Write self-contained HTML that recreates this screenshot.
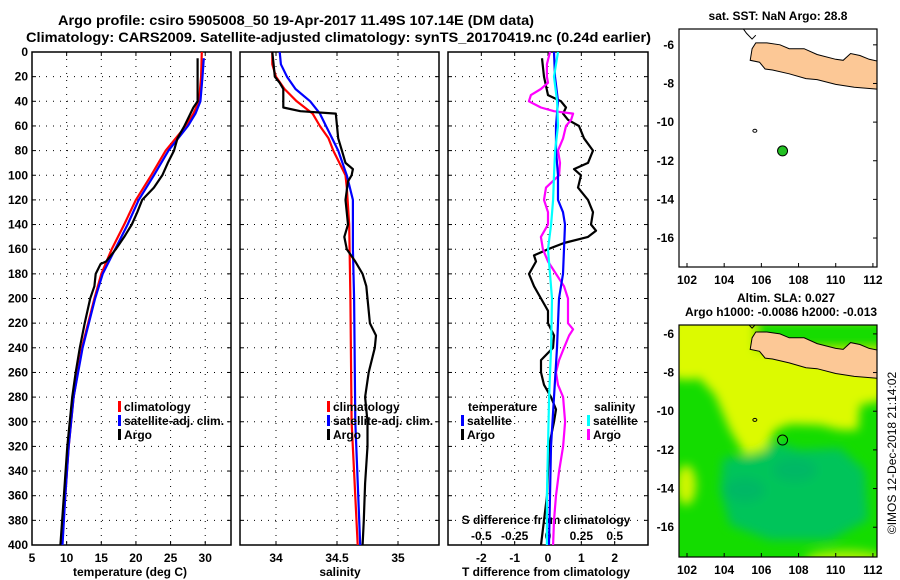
<!DOCTYPE html>
<html><head><meta charset="utf-8"><title>Argo profile</title>
<style>
html,body{margin:0;padding:0;background:#fff;}
svg{display:block;font-family:"Liberation Sans",Arial,sans-serif;font-weight:bold;}
</style></head>
<body>
<svg id="chart" width="900" height="580" viewBox="0 0 900 580" xmlns="http://www.w3.org/2000/svg">
<defs>
<clipPath id="clipMap2"><rect x="679" y="325" width="198" height="232"/></clipPath>
<clipPath id="clipMap1"><rect x="679" y="29" width="198" height="238"/></clipPath>
<filter id="blur" x="-20%" y="-20%" width="140%" height="140%"><feGaussianBlur stdDeviation="5"/></filter>
</defs>
<text x="58" y="25" font-size="14" textLength="476" lengthAdjust="spacingAndGlyphs">Argo profile: csiro 5905008_50 19-Apr-2017 11.49S 107.14E (DM data)</text>
<text x="26" y="42" font-size="14" textLength="625" lengthAdjust="spacingAndGlyphs">Climatology: CARS2009. Satellite-adjusted climatology: synTS_20170419.nc (0.24d earlier)</text>
<g id="plots"></g>
</svg>
<script>
// ---------- data ----------
const depthTicks = [0,20,40,60,80,100,120,140,160,180,200,220,240,260,280,300,320,340,360,380,400];
const tempTicks = [5,10,15,20,25,30];
const salTicks = [34,34.5,35];
const salTickLabels = ['34','34.5','35'];
const tdiffTicks = [-2,-1,0,1,2];
const sdiffTickLabels = ['-0.5','-0.25','0','0.25','0.5'];
const sdiffTicks = [-0.5,-0.25,0,0.25,0.5];

// temperature (deg C)
const tClimDepth = [0,20,40,50,60,80,100,120,140,160,180,200,240,280,320,360,400];
const tClimVal   = [29.5,29.4,29.1,28.3,27.2,24.3,22.2,20.0,18.3,16.5,15.0,14.0,12.2,11.0,10.3,9.8,9.3];
const tSatDepth  = [5,20,40,50,60,80,100,120,140,160,180,200,240,280,320,360,400];
const tSatVal    = [29.8,29.6,29.3,28.6,27.5,24.7,22.6,20.4,18.8,17.0,15.2,14.1,12.3,11.0,10.3,9.8,9.4];
const tArgoDepth = [5,20,40,45,60,70,80,90,100,110,120,130,140,150,160,165,170,172,180,190,200,220,240,260,280,320,360,400];
const tArgoVal   = [28.9,28.9,28.9,28.3,27.0,26.0,25.5,24.6,23.8,22.6,20.9,20.2,19.4,18.3,17.1,16.4,15.7,14.9,14.2,14.0,13.4,12.6,11.9,11.3,10.8,10.1,9.6,9.1];

// salinity
const sClimDepth = [0,10,20,30,40,50,60,70,80,90,100,110,140,200,300,400];
const sClimVal   = [33.97,33.97,34.00,34.07,34.17,34.30,34.36,34.43,34.47,34.52,34.57,34.58,34.60,34.61,34.62,34.67];
const sSatDepth  = [0,10,20,30,40,50,60,70,80,100,120,160,200,300,400];
const sSatVal    = [34.03,34.04,34.09,34.16,34.28,34.36,34.41,34.46,34.51,34.58,34.63,34.63,34.64,34.65,34.69];
const sArgoDepth = [0,10,20,25,30,40,45,48,50,60,70,80,90,95,100,105,120,140,150,160,170,180,190,200,220,230,240,260,280,300,320,350,380,400];
const sArgoVal   = [33.97,33.98,33.99,34.03,34.06,34.06,34.06,34.20,34.49,34.50,34.51,34.54,34.57,34.63,34.62,34.59,34.57,34.59,34.56,34.58,34.65,34.71,34.74,34.75,34.77,34.82,34.81,34.76,34.73,34.75,34.75,34.73,34.72,34.71];

// differences from climatology
const dTArgoDepth = [5,20,35,40,45,50,55,60,70,80,90,95,100,110,120,130,140,145,150,155,160,165,170,180,190,200,210,220,230,240,250,260,270,280,290,300,320,340,360,380,400];
const dTArgoVal   = [-0.18,-0.12,0,0.39,0.54,0.45,0.6,0.93,1.08,1.35,1.2,0.78,0.99,0.9,1.2,1.35,1.29,1.44,1.2,0.48,0,-0.42,-0.36,-0.57,-0.42,-0.21,0,0,0.18,0.15,-0.21,-0.21,-0.12,0.09,0.24,0.18,0.03,0,-0.03,-0.12,-0.21];
const dTSatDepth  = [0,20,40,60,80,100,120,130,140,160,180,200,240,280,320,360,400];
const dTSatVal    = [0.18,0.21,0.3,0.24,0.24,0.3,0.3,0.45,0.51,0.48,0.45,0.33,0.27,0.18,0.09,0.06,0.03];
const dSSatDepth  = [0,20,40,60,80,100,120,140,160,180,200,240,280,320,360,400];
const dSSatVal    = [0.075,0.045,0.068,0.075,0.053,0.045,0.038,0.023,0,0.015,0.03,0.023,0.008,0,-0.008,-0.008];
const dSArgoDepth = [0,10,20,25,30,35,40,45,48,50,55,60,70,80,90,100,110,120,130,140,150,160,170,180,190,200,220,225,230,240,250,260,270,280,300,320,340,360,380,400];
const dSArgoVal   = [0.015,-0.008,-0.008,0,-0.053,-0.128,-0.143,-0.053,0.045,0.188,0.173,0.135,0.113,0.075,0.09,0.083,-0.015,-0.03,0,0,-0.053,-0.038,0,0.06,0.12,0.15,0.15,0.188,0.158,0.12,0.083,0.06,0.075,0.113,0.128,0.113,0.083,0.06,0.045,0.038];

// maps
const lonTicks = [102,104,106,108,110,112];
const latTicks = [-6,-8,-10,-12,-14,-16];
const floatLon = [107.14];
const floatLat = [-11.49];
const javaLon = [105.7,106.3,107.0,107.5,108.3,109.0,110.0,110.4,110.8,111.3,111.8,112.3,112.3,111.0,110.0,109.0,108.4,107.5,106.6,106.2,105.9,105.4,105.5];
const javaLat = [-5.9,-5.9,-6.0,-6.2,-6.2,-6.5,-6.75,-6.8,-6.45,-6.55,-6.75,-6.85,-8.3,-8.2,-8.05,-7.8,-7.75,-7.5,-7.3,-7.25,-6.9,-6.8,-6.2];

// ---------- helpers ----------
const NS='http://www.w3.org/2000/svg';
const root=document.getElementById('plots');
function mk(tag,attrs,parent){const e=document.createElementNS(NS,tag);for(const k in attrs)e.setAttribute(k,attrs[k]);(parent||root).appendChild(e);return e;}
const top0=52, bot0=545;
function yD(d){return top0+(d/400)*(bot0-top0);}
const panels=[
 {x0:32,x1:231,min:5,max:33.72,name:'temperature-panel'},
 {x0:240,x1:439,min:33.705,max:35.336,name:'salinity-panel'},
 {x0:448,x1:648,min:-3.0,max:3.0,name:'difference-panel'}];
function xs(p,v){return p.x0+(v-p.min)/(p.max-p.min)*(p.x1-p.x0);}
function line(p,depths,vals,color,name,scale){
  const pts=depths.map((d,i)=>xs(p,vals[i]*(scale||1)).toFixed(1)+','+yD(d).toFixed(1)).join(' ');
  const e=mk('polyline',{points:pts,fill:'none',stroke:color,'stroke-width':2.2,'stroke-linejoin':'round'});
  
  
}
function txt(x,y,s,size,anchor,name,extra){
  const e=mk('text',Object.assign({x:x,y:y,'font-size':size,'text-anchor':anchor||'start'},extra||{}));
  e.textContent=s;
  
  
  return e;
}

depthTicks.forEach(d=>{txt(28,yD(d)+4,String(d),12,'end','depth-tick-label');});

panels.forEach((p,pi)=>{
  const g=mk('g',{});
  
  
  depthTicks.forEach(d=>{if(d>0&&d<400){
    const l=mk('line',{x1:p.x0,x2:p.x1,y1:yD(d),y2:yD(d),stroke:'#000','stroke-width':1,'stroke-dasharray':'1,6'},g);
    
    mk('line',{x1:p.x0,x2:p.x0+4,y1:yD(d),y2:yD(d),stroke:'#000'},g);
    mk('line',{x1:p.x1-4,x2:p.x1,y1:yD(d),y2:yD(d),stroke:'#000'},g);
  }});
  const ticks = pi===0?tempTicks:(pi===1?salTicks:tdiffTicks);
  ticks.forEach((t,i)=>{
    const x=xs(p,t);
    if(x>p.x0+1&&x<p.x1-1){
      const l=mk('line',{x1:x,x2:x,y1:top0,y2:bot0,stroke:'#000','stroke-width':1,'stroke-dasharray':'1,6'},g);
      
      mk('line',{x1:x,x2:x,y1:top0,y2:top0+4,stroke:'#000'},g);
      mk('line',{x1:x,x2:x,y1:bot0-4,y2:bot0,stroke:'#000'},g);
    }
    const lab = pi===1?salTickLabels[i]:String(t);
    txt(x,562,lab,12,'middle','x-tick-label');
  });
  const fr=mk('rect',{x:p.x0,y:top0,width:p.x1-p.x0,height:bot0-top0,fill:'none',stroke:'#000','stroke-width':1.5},g);
  
});
txt(130,576,'temperature (deg C)',12,'middle','temperature-axis-title');
txt(340,576,'salinity',12,'middle','salinity-axis-title');
txt(546,576,'T difference from climatology',12,'middle','tdiff-axis-title');
txt(546,524,'S difference from climatology',12,'middle','sdiff-axis-title');
sdiffTicks.forEach((t,i)=>{txt(xs(panels[2],t*4),540,sdiffTickLabels[i],12,'middle','sdiff-tick-label');});

line(panels[0],tClimDepth,tClimVal,'#ff0000','temp-climatology-line');
line(panels[0],tSatDepth,tSatVal,'#0000ff','temp-satellite-line');
line(panels[0],tArgoDepth,tArgoVal,'#000000','temp-argo-line');
line(panels[1],sClimDepth,sClimVal,'#ff0000','sal-climatology-line');
line(panels[1],sSatDepth,sSatVal,'#0000ff','sal-satellite-line');
line(panels[1],sArgoDepth,sArgoVal,'#000000','sal-argo-line');
line(panels[2],dTArgoDepth,dTArgoVal,'#000000','tdiff-argo-line');
line(panels[2],dSArgoDepth,dSArgoVal,'#ff00ff','sdiff-argo-line',4);
line(panels[2],dTSatDepth,dTSatVal,'#0000ff','tdiff-satellite-line');
line(panels[2],dSSatDepth,dSSatVal,'#00ffff','sdiff-satellite-line',4);

function legend(x,y,color,label,name){
  const b=mk('rect',{x:x,y:y-10,width:3,height:11,fill:color});
  
  txt(x+6,y,label,12,'start',name);
}
[['climatology','#ff0000'],['satellite-adj. clim.','#0000ff'],['Argo','#000000']].forEach((r,i)=>{
  legend(118,411+i*14,r[1],r[0],'legend-entry');
  legend(327,411+i*14,r[1],r[0],'legend-entry');
});
txt(468,411,'temperature',12,'start','legend-title');
legend(461,425,'#0000ff','satellite','legend-entry');
legend(461,439,'#000000','Argo','legend-entry');
txt(594,411,'salinity',12,'start','legend-title');
legend(587,425,'#00ffff','satellite','legend-entry');
legend(587,439,'#ff00ff','Argo','legend-entry');

// ---------- maps ----------
function mapAxes(m){
  m.lx=v=>m.x0+(v-m.lonMin)/(m.lonMax-m.lonMin)*(m.x1-m.x0);
  m.ly=v=>m.y0+(m.latMax-v)/(m.latMax-m.latMin)*(m.y1-m.y0);
}
const maps=[
 {x0:679,x1:877,y0:29,y1:267,lonMin:101.57,lonMax:112.22,latMax:-5.18,latMin:-17.5,name:'sst-map',clip:'clipMap1'},
 {x0:679,x1:877,y0:325,y1:557,lonMin:101.57,lonMax:112.22,latMax:-5.54,latMin:-17.54,name:'sla-map',clip:'clipMap2'}];
maps.forEach(mapAxes);
txt(778,20,'sat. SST: NaN Argo: 28.8',12,'middle','sst-map-title');
txt(786,302,'Altim. SLA: 0.027',12,'middle','sla-map-title');
txt(781,316,'Argo h1000: -0.0086 h2000: -0.013',12,'middle','sla-map-subtitle');

maps.forEach((m,mi)=>{
  const g=mk('g',{'clip-path':'url(#'+m.clip+')'});
  
  
  if(mi===1){
    mk('rect',{x:m.x0,y:m.y0,width:m.x1-m.x0,height:m.y1-m.y0,fill:'#14dc00'},g);
    const fg=mk('g',{filter:'url(#blur)'},g);
    mk('polygon',{points:'670,315 885,315 885,400 860,405 858,430 840,430 820,425 790,424 775,430 765,450 745,455 730,430 715,395 699,378 690,380 670,378',fill:'#dcfa00'},fg);
    mk('polygon',{points:'723,458 760,455 775,442 800,450 840,448 865,470 868,520 830,540 770,540 730,525 720,490',fill:'#00c45a'},fg);
    mk('ellipse',{cx:795,cy:470,rx:22,ry:12,fill:'#00b865'},fg);
    mk('ellipse',{cx:745,cy:490,rx:20,ry:12,fill:'#00b865'},fg);
    mk('ellipse',{cx:686,cy:485,rx:10,ry:20,fill:'#d0f600'},fg);
    mk('ellipse',{cx:845,cy:560,rx:40,ry:10,fill:'#a8f000'},fg);
    mk('rect',{x:755,y:318,width:130,height:32,fill:'#14dc00'},fg);
  } else {
    mk('rect',{x:m.x0,y:m.y0,width:m.x1-m.x0,height:m.y1-m.y0,fill:'#fff'},g);
  }
  const pts=javaLon.map((v,i)=>m.lx(v).toFixed(1)+','+m.ly(javaLat[i]).toFixed(1)).join(' ');
  const land=mk('polygon',{points:pts,fill:'#fcc896',stroke:'#000','stroke-width':1},g);
  
  const sum=mk('polyline',{points:[[104.9,-5.0],[105.2,-5.4],[105.5,-5.7],[105.7,-5.5]].map(q=>m.lx(q[0])+','+m.ly(q[1])).join(' '),fill:'none',stroke:'#000','stroke-width':1},g);
  
  mk('ellipse',{cx:m.lx(105.65),cy:m.ly(-10.45),rx:2,ry:1.5,fill:'none',stroke:'#000'},g);
  floatLon.forEach((lo,i)=>{
    const c=mk('circle',{cx:m.lx(lo),cy:m.ly(floatLat[i]),r:5,fill:mi===0?'#22c022':'none',stroke:'#000','stroke-width':1},g);
    
  });
  const fr=mk('rect',{x:m.x0,y:m.y0,width:m.x1-m.x0,height:m.y1-m.y0,fill:'none',stroke:'#000','stroke-width':1.2});
  
  lonTicks.forEach(v=>{const x=m.lx(v);
    mk('line',{x1:x,x2:x,y1:m.y1,y2:m.y1-4,stroke:'#000'});
    txt(x,m.y1+17,String(v),12,'middle','lon-tick-label');});
  latTicks.forEach(v=>{const y=m.ly(v);
    mk('line',{x1:m.x1,x2:m.x1-4,y1:y,y2:y,stroke:'#000'});
    txt(m.x0-5,y+4,String(v),12,'end','lat-tick-label');});
});
txt(0,0,'©IMOS 12-Dec-2018 21:14:02',12,'middle','copyright-timestamp',{transform:'translate(896,453) rotate(-90)','font-weight':'normal'});
</script>
</body></html>
